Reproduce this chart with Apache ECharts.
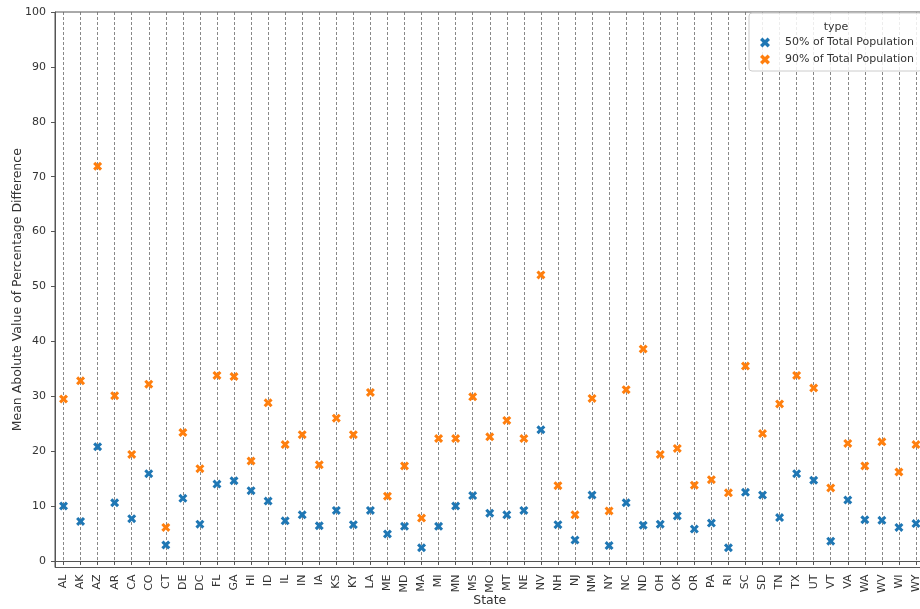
<!DOCTYPE html>
<html>
<head>
<meta charset="utf-8">
<script src="https://cdn.jsdelivr.net/npm/echarts@6/dist/echarts.min.js"></script>
<style>
  html, body { margin: 0; padding: 0; background: #fff; }
  #chart { width: 920px; height: 609px; }
</style>
</head>
<body>
<div id="chart"></div>
<script>
// States along the x axis
const states = ['AL','AK','AZ','AR','CA','CO','CT','DE','DC','FL','GA','HI','ID','IL','IN','IA','KS','KY','LA','ME','MD','MA','MI','MN','MS','MO','MT','NE','NV','NH','NJ','NM','NY','NC','ND','OH','OK','OR','PA','RI','SC','SD','TN','TX','UT','VT','VA','WA','WV','WI','WY'];

// Mean absolute percentage difference, 50% of total population
const pop50 = [10.0, 7.2, 20.8, 10.6, 7.7, 15.9, 2.9, 11.4, 6.7, 14.0, 14.6, 12.8, 10.9, 7.3, 8.4, 6.4, 9.2, 6.6, 9.2, 4.9, 6.3, 2.4, 6.3, 10.0, 11.9, 8.7, 8.4, 9.2, 23.9, 6.6, 3.8, 12.0, 2.8, 10.6, 6.5, 6.7, 8.2, 5.8, 6.9, 2.4, 12.5, 12.0, 7.9, 15.9, 14.7, 3.6, 11.1, 7.5, 7.4, 6.1, 6.8];

// Mean absolute percentage difference, 90% of total population
const pop90 = [29.5, 32.8, 71.9, 30.1, 19.4, 32.2, 6.1, 23.4, 16.8, 33.8, 33.6, 18.2, 28.8, 21.2, 23.0, 17.5, 26.0, 23.0, 30.7, 11.8, 17.3, 7.8, 22.3, 22.3, 29.9, 22.6, 25.6, 22.3, 52.1, 13.7, 8.4, 29.6, 9.1, 31.2, 38.6, 19.4, 20.5, 13.8, 14.8, 12.4, 35.5, 23.2, 28.6, 33.8, 31.5, 13.3, 21.4, 17.3, 21.7, 16.2, 21.2];

// Y tick labels
const yTicks = [0, 10, 20, 30, 40, 50, 60, 70, 80, 90, 100];

const seriesNames = ['50% of Total Population', '90% of Total Population'];
const seriesColors = ['#1f77b4', '#ff7f0e'];

// Filled "X" marker outline
const xMarker = 'path://M0,2.4 L2.4,0 L5,2.6 L7.6,0 L10,2.4 L7.4,5 L10,7.6 L7.6,10 L5,7.4 L2.4,10 L0,7.6 L2.6,5 Z';

const font = 'DejaVu Sans, sans-serif';
const spine = '#555555';

const chart = echarts.init(document.getElementById('chart'), null, { renderer: 'canvas' });

chart.setOption({
  animation: false,
  backgroundColor: '#ffffff',
  textStyle: { fontFamily: font },
  grid: {
    left: 55,
    top: 12,
    right: -4.5,
    bottom: 41.5,
    outerBoundsMode: 'none',
    containLabel: false,
    show: true,
    borderColor: spine,
    borderWidth: 1
  },
  xAxis: {
    type: 'category',
    data: states,
    boundaryGap: true,
    name: 'State',
    nameLocation: 'middle',
    nameGap: 27,
    nameMoveOverlap: false,
    nameTextStyle: { fontSize: 12.5, color: '#333', fontFamily: font },
    axisLine: { show: true, lineStyle: { color: spine, width: 1 } },
    axisTick: { show: true, alignWithLabel: true, interval: 0, length: 4, lineStyle: { color: spine } },
    axisLabel: { interval: 0, rotate: 90, fontSize: 11, color: '#333', margin: 7, fontFamily: font },
    splitLine: {
      show: true,
      interval: 0,
      alignWithLabel: true,
      lineStyle: { color: '#6a6a6a', width: 0.8, type: [3, 2] }
    }
  },
  yAxis: {
    type: 'value',
    min: -1.2,
    max: 100,
    name: 'Mean Abolute Value of Percentage Difference',
    nameLocation: 'middle',
    nameGap: 31,
    nameMoveOverlap: false,
    nameTextStyle: { fontSize: 12.5, color: '#333', fontFamily: font },
    axisLine: { show: true, lineStyle: { color: spine, width: 1 } },
    axisTick: { show: true, length: 4, customValues: yTicks, lineStyle: { color: spine } },
    axisLabel: { customValues: yTicks, fontSize: 11, color: '#333', margin: 9, fontFamily: font },
    splitLine: { show: false }
  },
  legend: {
    orient: 'vertical',
    left: 749,
    top: 13,
    padding: [24, 8, 6, 11],
    itemWidth: 10,
    itemHeight: 10,
    itemGap: 6,
    backgroundColor: 'rgba(255,255,255,0.85)',
    borderColor: '#cccccc',
    borderWidth: 1,
    borderRadius: 3,
    textStyle: { fontSize: 11, color: '#333', fontFamily: font, padding: [0, 0, 0, 10] },
    data: seriesNames.map(function (n) { return { name: n, icon: xMarker }; })
  },
  graphic: [{
    type: 'text',
    z: 100,
    x: 836,
    y: 27,
    style: {
      text: 'type',
      fill: '#333',
      font: '11px ' + font,
      textAlign: 'center',
      textVerticalAlign: 'middle'
    }
  }],
  series: [pop50, pop90].map(function (vals, i) {
    return {
      name: seriesNames[i],
      type: 'scatter',
      data: vals,
      symbol: xMarker,
      symbolSize: 9,
      itemStyle: { color: seriesColors[i], opacity: 1 }
    };
  })
});
</script>
</body>
</html>
